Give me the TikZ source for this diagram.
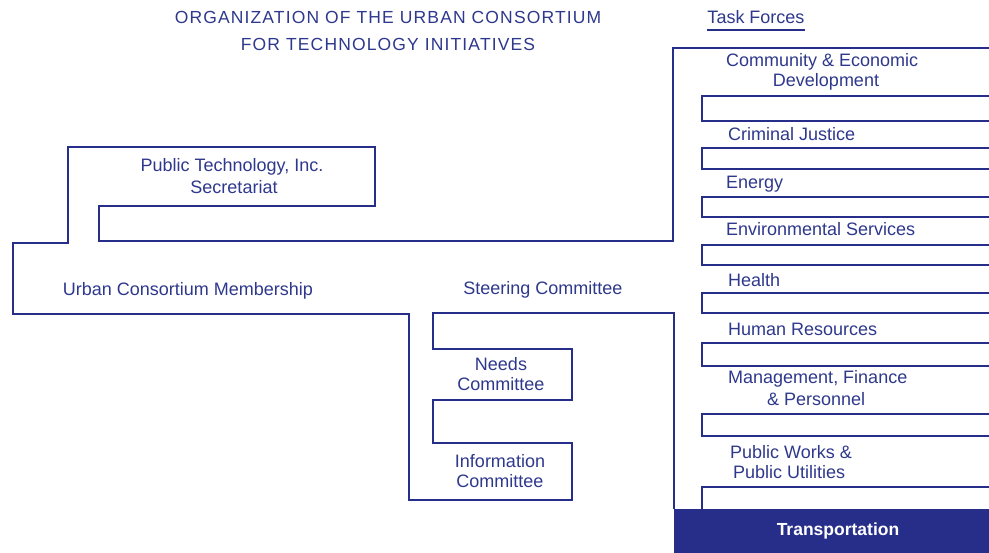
\documentclass[tikz,border=0pt]{standalone}
\usepackage{fontspec}
\setmainfont{Liberation Sans}
\newfontfamily\titlefont[LetterSpace=6.5]{Liberation Sans}
\usepackage{tikz}
\usetikzlibrary{positioning}

\definecolor{ucblue}{RGB}{38,46,138}
\definecolor{uctext}{RGB}{46,56,140}

\tikzset{
  outline/.style={draw=ucblue, line width=1.6pt, line join=miter},
  lbl/.style={text=uctext, font=\fontsize{18}{20}\selectfont, inner sep=0pt, align=center},
  tflbl/.style={lbl, anchor=west, align=left},
}

\begin{document}
\begin{tikzpicture}[x=1pt,y=1pt,yscale=-1]
  \useasboundingbox (0,0) rectangle (989,553);

  % membership band with secretariat and steering committee
  \draw [outline] (674,509) -- (674,313) -- (433,313) -- (433,349) -- (572,349) -- (572,400) -- (433,400)
        -- (433,443) -- (572,443) -- (572,500) -- (409,500) -- (409,314) -- (13,314) -- (13,243) -- (68,243)
        -- (68,147) -- (375,147) -- (375,206) -- (99,206) -- (99,241) -- (673,241) -- (673,48) -- (989,48);

  % task force slots
  \draw [outline] (989,96) -- (702,96) -- (702,121) -- (989,121);
  \draw [outline] (989,148) -- (702,148) -- (702,169) -- (989,169);
  \draw [outline] (989,197) -- (702,197) -- (702,217) -- (989,217);
  \draw [outline] (989,245) -- (702,245) -- (702,265) -- (989,265);
  \draw [outline] (989,293) -- (702,293) -- (702,313) -- (989,313);
  \draw [outline] (989,343) -- (702,343) -- (702,366) -- (989,366);
  \draw [outline] (989,414) -- (702,414) -- (702,436) -- (989,436);
  \draw [outline] (989,487) -- (702,487) -- (702,509);

  \fill [ucblue] (674,509) rectangle (989,553);

  \node [lbl, font=\fontsize{17.5}{20}\titlefont] (title) at (388,17) {ORGANIZATION OF THE URBAN CONSORTIUM};
  \node [lbl, font=\fontsize{17.5}{20}\titlefont] (title2) at (388,44) {FOR TECHNOLOGY INITIATIVES};
  \node [lbl] (taskforces) at (756,17) {Task Forces};
  \draw [ucblue, line width=1.6pt] ([yshift=6pt]taskforces.south west) -- ([yshift=6pt]taskforces.south east);

  \node [lbl] (pti) at (232,167) {Public Technology, Inc.};
  \node [lbl] (secretariat) at (234,187) {Secretariat};
  \node [lbl] (membership) at (188,291) {Urban Consortium Membership};
  \node [lbl] (steering) at (543,290) {Steering Committee};
  \node [lbl] (needs) at (501,374) {Needs\\Committee};
  \node [lbl] (info) at (500,471) {Information\\Committee};

  \node [tflbl] (community) at (726,62) {Community \& Economic};
  \node [lbl] (development) at (826,82) {Development};
  \node [tflbl] (justice) at (728,134) {Criminal Justice};
  \node [tflbl] (energy) at (726,184) {Energy};
  \node [tflbl] (environment) at (726,229) {Environmental Services};
  \node [tflbl] (health) at (728,280) {Health};
  \node [tflbl] (human) at (728,329) {Human Resources};
  \node [tflbl] (management) at (728,379) {Management, Finance};
  \node [tflbl] (personnel) at (767,399) {\& Personnel};
  \node [tflbl] (publicworks) at (730,452) {Public Works \&};
  \node [tflbl] (utilities) at (733,472) {Public Utilities};
  \node [lbl, text=white, font=\fontsize{17.5}{20}\selectfont\bfseries] (transport) at (838,531) {Transportation};
\end{tikzpicture}
\end{document}
